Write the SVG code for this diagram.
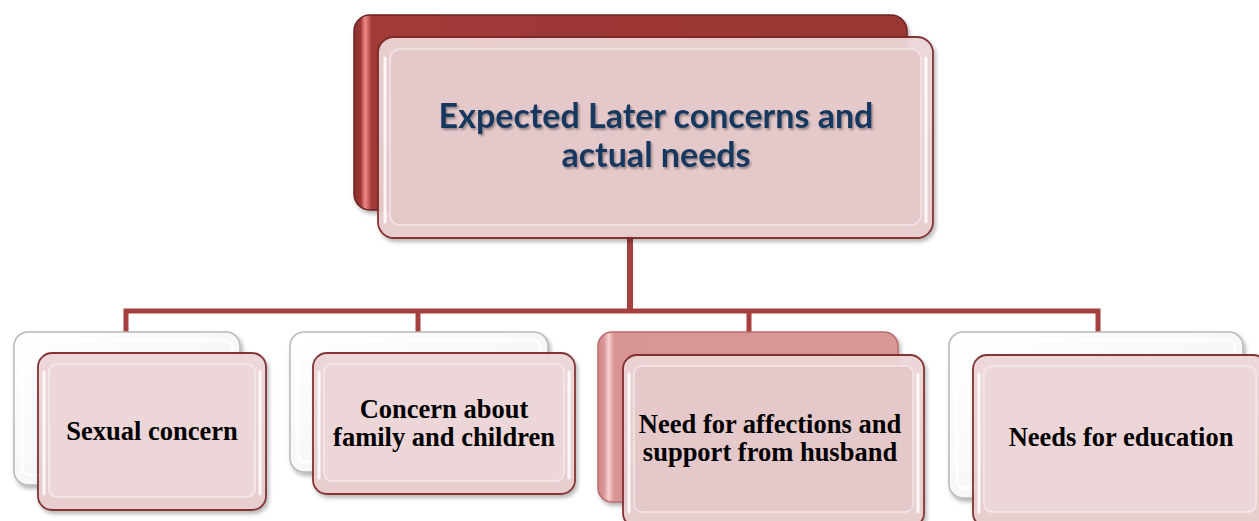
<svg xmlns="http://www.w3.org/2000/svg" width="1259" height="521" viewBox="0 0 1259 521">
  <defs>
    <linearGradient id="gDark" x1="0" y1="0" x2="1" y2="0">
      <stop offset="0" stop-color="#8a2e2c"/>
      <stop offset="0.012" stop-color="#9c3634"/>
      <stop offset="0.02" stop-color="#f08a88"/>
      <stop offset="0.032" stop-color="#a03a38"/>
      <stop offset="1" stop-color="#9a3735"/>
    </linearGradient>
    <linearGradient id="gPinkBack" x1="0" y1="0" x2="1" y2="0">
      <stop offset="0" stop-color="#cf8787"/>
      <stop offset="0.02" stop-color="#d99595"/>
      <stop offset="0.035" stop-color="#f6d0d0"/>
      <stop offset="0.055" stop-color="#d99595"/>
      <stop offset="1" stop-color="#d99797"/>
    </linearGradient>
    <linearGradient id="gWhite" x1="0" y1="0" x2="1" y2="1">
      <stop offset="0" stop-color="#ffffff"/>
      <stop offset="0.6" stop-color="#f6f6f6"/>
      <stop offset="1" stop-color="#d4d4d4"/>
    </linearGradient>
    <linearGradient id="gFrontEdge" x1="0" y1="0" x2="0" y2="1">
      <stop offset="0" stop-color="#edd6d7"/>
      <stop offset="1" stop-color="#e6cbcc"/>
    </linearGradient>
    <filter id="sh" x="-10%" y="-10%" width="120%" height="130%">
      <feDropShadow dx="2" dy="3" stdDeviation="2" flood-color="#000" flood-opacity="0.3"/>
    </filter>
    <filter id="tsh" x="-5%" y="-20%" width="110%" height="150%">
      <feDropShadow dx="1.5" dy="2" stdDeviation="1" flood-color="#000" flood-opacity="0.35"/>
    </filter>
  </defs>
  <style>
    .conn { stroke: #a5403e; stroke-width: 5; fill: none; }
    .backDark { fill: url(#gDark); stroke: #6e2322; stroke-width: 1.5; }
    .backWhite { fill: url(#gWhite); stroke: #b8b8b8; stroke-width: 1.5; }
    .backPink { fill: url(#gPinkBack); stroke: #b86e6e; stroke-width: 1.5; }
    .innerW { fill: none; stroke: #ffffff; stroke-width: 3; opacity: 0.8; }
    .front { fill: url(#gFrontEdge); stroke: #7d2a29; stroke-width: 1.8; opacity: 0.95; }
    .face { fill: #e5c8ca; stroke: #f4e6e6; stroke-width: 1.5; }
    .faceL { fill: #ecd6d7; stroke: #f6eaea; stroke-width: 1.5; }
    .hl { stroke: #ffffff; stroke-width: 3; opacity: 0.85; stroke-linecap: round; }
    .title { font-family: Lato, "Open Sans", sans-serif; font-weight: bold; font-size: 34px; fill: #17375e; text-anchor: middle; }
    .lbl { font-family: "Liberation Serif", "Times New Roman", serif; font-weight: bold; font-size: 26.5px; fill: #000; text-anchor: middle; }
  </style>

  <g id="connectors">
    <line class="conn" x1="630" y1="236" x2="630" y2="311" style="stroke-width:6"/>
    <polyline class="conn" points="126,332 126,311 1098,311 1098,332"/>
    <line class="conn" x1="418" y1="311" x2="418" y2="332"/>
    <line class="conn" x1="749" y1="311" x2="749" y2="332"/>
  </g>

  <g id="node-root">
    <rect class="backDark" x="354" y="15" width="553" height="195" rx="16" filter="url(#sh)"/>
    <rect class="front" x="378" y="37" width="555" height="201" rx="16" filter="url(#sh)"/>
    <rect class="face" x="390" y="49" width="531" height="176" rx="10"/>
    <line class="hl" x1="385" y1="58" x2="385" y2="222"/>
    <line class="hl" x1="926" y1="58" x2="926" y2="222"/>
    <text class="title" x="656" y="128" filter="url(#tsh)">Expected Later concerns and</text>
    <text class="title" x="656" y="167" filter="url(#tsh)">actual needs</text>
  </g>

  <g id="node-sexual">
    <rect class="backWhite" x="14" y="332" width="226" height="153" rx="14" filter="url(#sh)"/>
    <rect class="innerW" x="22" y="340" width="210" height="135" rx="8"/>
    <rect class="front" x="38" y="353" width="228" height="157" rx="14" filter="url(#sh)"/>
    <rect class="faceL" x="49" y="364" width="206" height="133" rx="8"/>
    <line class="hl" x1="44" y1="372" x2="44" y2="494"/>
    <line class="hl" x1="260" y1="372" x2="260" y2="494"/>
    <text class="lbl" x="152" y="440">Sexual concern</text>
  </g>

  <g id="node-family">
    <rect class="backWhite" x="290" y="332" width="258" height="140" rx="14" filter="url(#sh)"/>
    <rect class="innerW" x="298" y="340" width="242" height="122" rx="8"/>
    <rect class="front" x="313" y="353" width="262" height="141" rx="14" filter="url(#sh)"/>
    <rect class="faceL" x="324" y="364" width="240" height="117" rx="8"/>
    <line class="hl" x1="319" y1="372" x2="319" y2="478"/>
    <line class="hl" x1="569" y1="372" x2="569" y2="478"/>
    <text class="lbl" x="444" y="418">Concern about</text>
    <text class="lbl" x="444" y="446">family and children</text>
  </g>

  <g id="node-affection">
    <rect class="backPink" x="598" y="332" width="300" height="170" rx="14" filter="url(#sh)"/>
    <rect class="front" x="623" y="355" width="301" height="172" rx="14" filter="url(#sh)"/>
    <rect class="face" x="634" y="366" width="279" height="146" rx="8"/>
    <line class="hl" x1="629" y1="374" x2="629" y2="512"/>
    <line class="hl" x1="918" y1="374" x2="918" y2="512"/>
    <text class="lbl" x="770" y="433">Need for affections and</text>
    <text class="lbl" x="770" y="461">support from husband</text>
  </g>

  <g id="node-education">
    <rect class="backWhite" x="949" y="332" width="294" height="166" rx="14" filter="url(#sh)"/>
    <rect class="innerW" x="957" y="340" width="278" height="148" rx="8"/>
    <rect class="front" x="973" y="355" width="294" height="172" rx="14" filter="url(#sh)"/>
    <rect class="faceL" x="984" y="366" width="272" height="146" rx="8"/>
    <line class="hl" x1="979" y1="374" x2="979" y2="512"/>
    <text class="lbl" x="1121" y="446">Needs for education</text>
  </g>
</svg>
